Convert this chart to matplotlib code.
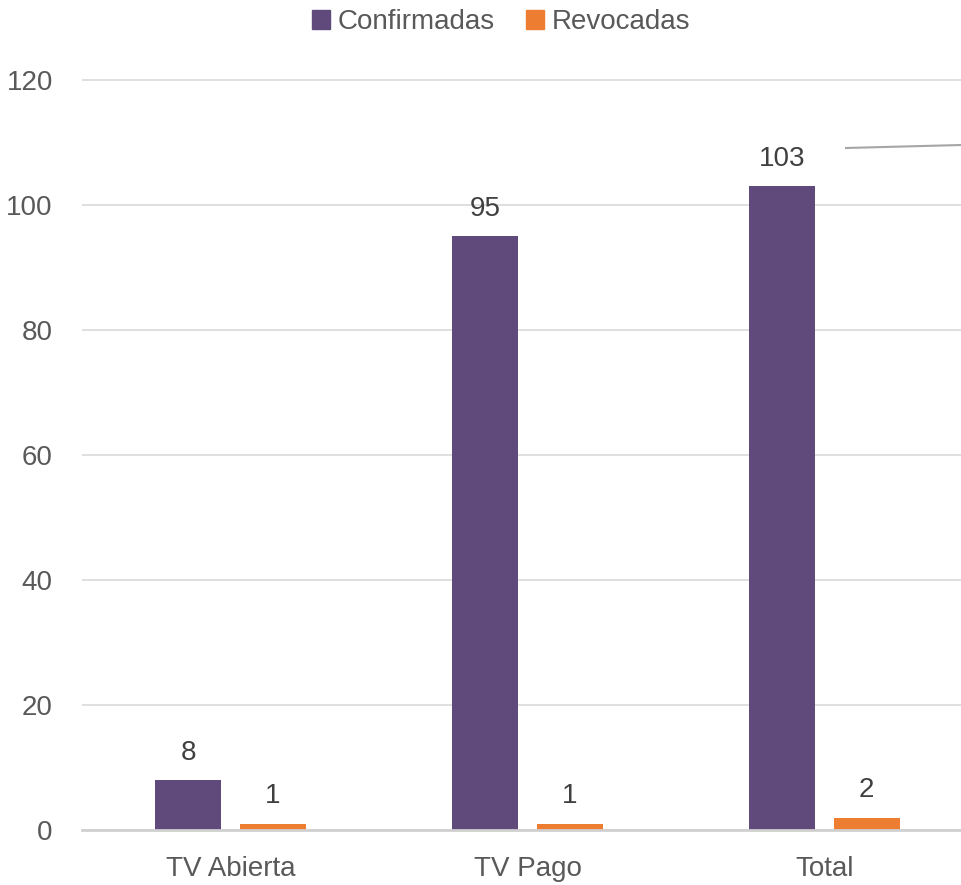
import numpy as np
import matplotlib
matplotlib.use("Agg")
import matplotlib.pyplot as plt
from matplotlib.lines import Line2D
from matplotlib.patches import Patch

categories = ["TV Abierta", "TV Pago", "Total"]
confirmadas = [8, 95, 103]
revocadas = [1, 1, 2]

PURPLE = "#604A7B"
ORANGE = "#ED7D31"
plt.rcParams["font.family"] = ["Liberation Sans Narrow", "Liberation Sans", "DejaVu Sans"]
FS = 20

fig = plt.figure(figsize=(9.61, 8.85), dpi=100)
# plot area runs past the right edge of the image (the original is cropped)
ax = fig.add_axes([82 / 961, 55 / 885, 891 / 961, 775 / 885])

x = np.arange(len(categories))
w = 0.222
ax.bar(x - 0.142, confirmadas, w, color=PURPLE, label="Confirmadas", zorder=3)
ax.bar(x + 0.142, revocadas, w, color=ORANGE, label="Revocadas", zorder=3)

for xi, v in zip(x, confirmadas):
    ax.text(xi - 0.142, v + 2.3, str(v), ha="center", va="bottom", fontsize=FS, color="#404040")
for xi, v in zip(x, revocadas):
    ax.text(xi + 0.142, v + 2.3, str(v), ha="center", va="bottom", fontsize=FS, color="#404040")

ax.set_xlim(-0.5, 2.5)
ax.set_ylim(0, 124)
ax.set_yticks(np.arange(0, 121, 20))
ax.set_xticks(x)
ax.set_xticklabels(categories)
ax.tick_params(axis="both", length=0, labelsize=FS, colors="#595959")
ax.tick_params(axis="y", pad=21)
ax.tick_params(axis="x", pad=19)
ax.grid(axis="y", color="#D9D9D9", lw=1.2, zorder=0)
for s in ("top", "right", "left"):
    ax.spines[s].set_visible(False)
ax.spines["bottom"].set_color("#D0D0D0")
ax.spines["bottom"].set_linewidth(2)
ax.spines["bottom"].set_zorder(4)

handles = [Patch(color=PURPLE, label="Confirmadas"), Patch(color=ORANGE, label="Revocadas")]
fig.legend(handles=handles, loc="center", bbox_to_anchor=(501 / 961, 1 - 22 / 885), ncol=2,
           frameon=False, fontsize=FS, handlelength=0.65, handleheight=0.65,
           handletextpad=0.3, columnspacing=1.1, labelcolor="#595959")

# leader line fragment at top right
fig.add_artist(Line2D([846 / 961, 961 / 961], [1 - 148 / 885, 1 - 145 / 885],
                      color="#A6A6A6", lw=1.5))

fig.savefig("out.png", dpi=100)
